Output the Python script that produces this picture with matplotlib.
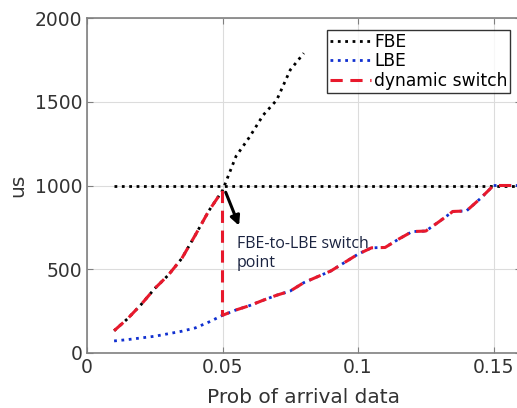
import numpy as np
import matplotlib.pyplot as plt

# arrival probability grid and delays (us)
p_fbe = [0.01, 0.015, 0.02, 0.025, 0.03, 0.035, 0.04, 0.045, 0.05,
         0.055, 0.06, 0.065, 0.07, 0.075, 0.08]
fbe = [133, 205, 290, 385, 465, 565, 705, 850, 970,
       1175, 1290, 1420, 1510, 1690, 1790]

# FBE frame period line
p_frame = [0.01, 0.16]
frame = [1000, 1000]

p_lbe = [0.01, 0.015, 0.02, 0.025, 0.03, 0.035, 0.04, 0.045, 0.05,
         0.055, 0.06, 0.065, 0.07, 0.075, 0.08, 0.085, 0.09, 0.095, 0.1,
         0.105, 0.11, 0.115, 0.12, 0.125, 0.13, 0.135, 0.14, 0.145, 0.15,
         0.155, 0.16]
lbe = [72, 80, 90, 100, 115, 130, 150, 185, 225,
       257, 283, 315, 345, 370, 420, 455, 490, 540, 590,
       628, 630, 680, 725, 728, 785, 845, 848, 920, 1000,
       1000, 1000]

switch_p = 0.05


def main() -> None:
    fig = plt.figure(figsize=(5.17, 4.08), dpi=100)
    # axes run past the right edge of the picture, as in the original
    ax = fig.add_axes([87 / 517, 55 / 408, (520.6 - 87) / 517, 335 / 408])

    # dynamic switch: FBE before the switch point, LBE after it
    p_fbe_arr = np.array(p_fbe)
    p_lbe_arr = np.array(p_lbe)
    fbe_arr = np.array(fbe)
    lbe_arr = np.array(lbe)
    before = p_fbe_arr <= switch_p
    after = p_lbe_arr >= switch_p
    p_dyn = np.concatenate([p_fbe_arr[before], p_lbe_arr[after]])
    dyn = np.concatenate([fbe_arr[before], lbe_arr[after]])

    ax.plot(p_fbe, fbe, color="black", linestyle=":", linewidth=2, label="FBE")
    ax.plot(p_frame, frame, color="black", linestyle=":", linewidth=2)
    ax.plot(p_lbe, lbe, color="#1030d0", linestyle=":", linewidth=2, label="LBE")
    ax.plot(p_dyn, dyn, color="#e8192c", linestyle=(0, (4, 2.5)), linewidth=2.2,
            label="dynamic switch")

    ax.annotate("", xy=(0.0565, 745), xytext=(0.0508, 975),
                arrowprops=dict(arrowstyle="-|>", color="black", lw=2.2,
                                mutation_scale=14))
    ax.text(0.0552, 700, "FBE-to-LBE switch\npoint", fontsize=11.5,
            family="Open Sans", color="#1a2340", va="top", ha="left",
            linespacing=1.25)

    ax.set_xlim(0, 0.16)
    ax.set_ylim(0, 2000)
    ax.set_xticks([0, 0.05, 0.1, 0.15])
    ax.set_xticklabels(["0", "0.05", "0.1", "0.15"])
    ax.set_yticks([0, 500, 1000, 1500, 2000])

    ax.grid(color="#dcdcdc", linewidth=0.8)
    for s in ax.spines.values():
        s.set_color("#808080")
        s.set_linewidth(1.2)
    ax.tick_params(direction="in", top=True, right=True, colors="#808080",
                   labelcolor="#333333", labelsize=13.5, length=4)

    ax.set_xlabel("Prob of arrival data", fontsize=14.5, color="#333333", labelpad=8)
    ax.set_ylabel("us", fontsize=14.5, color="#333333", labelpad=5)

    leg = ax.legend(loc="upper right", bbox_to_anchor=(510 / 517, 378 / 408),
                    bbox_transform=fig.transFigure, fontsize=12.3, frameon=True,
                    fancybox=False, handlelength=2.4, handletextpad=0.2,
                    borderpad=0.15, labelspacing=0.1, borderaxespad=0)
    leg.get_frame().set_edgecolor("black")
    leg.get_frame().set_linewidth(1.0)

    fig.savefig("out.png", dpi=100)


if __name__ == "__main__":
    main()
